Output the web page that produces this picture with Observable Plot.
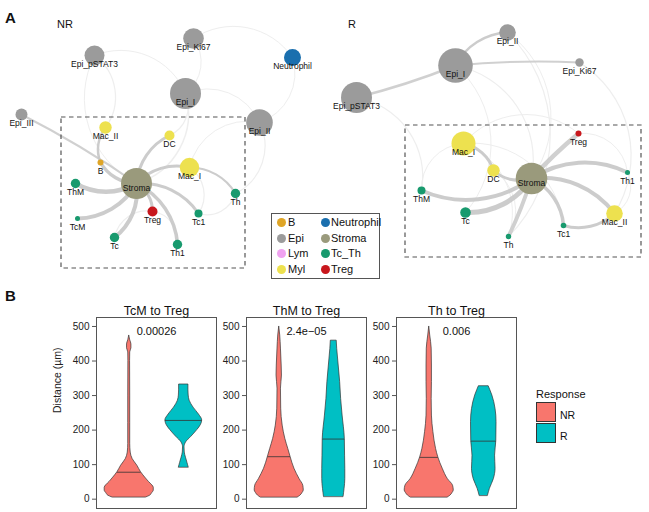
<!DOCTYPE html>
<html><head><meta charset="utf-8">
<script src="https://cdn.jsdelivr.net/npm/d3@7"></script>
<script src="https://cdn.jsdelivr.net/npm/@observablehq/plot@0.6"></script>
<style>
body{margin:0;background:#fff;font-family:"Liberation Sans",Arial,sans-serif;color:#111;}
#root{position:relative;width:649px;height:512px;overflow:hidden;background:#fff;}
.abs{position:absolute;white-space:nowrap;}
.abs svg{display:block;}
</style></head><body><div id="root"></div>
<script>
// ---------- Panel A data ----------
const groups = ["B","Epi","Lym","Myl","Neutrophil","Stroma","Tc_Th","Treg"];
const groupColors = ["#DFA526","#9B9B9B","#F0A2F0","#EDE14F","#1A6FAE","#9A9A7C","#189A6E","#C8171D"];

const nodesNR = [
  {id:"Epi_Ki67",group:"Epi",x:193,y:38,size:10.3},
  {id:"Epi_pSTAT3",group:"Epi",x:94,y:55,size:10},
  {id:"Neutrophil",group:"Neutrophil",x:292,y:57,size:8.5},
  {id:"Epi_I",group:"Epi",x:185,y:93,size:15.5},
  {id:"Epi_III",group:"Epi",x:21,y:114,size:6},
  {id:"Epi_II",group:"Epi",x:259,y:122,size:13.3},
  {id:"Mac_II",group:"Myl",x:105,y:127,size:6.2},
  {id:"DC",group:"Myl",x:169,y:135,size:5},
  {id:"B",group:"B",x:100,y:162,size:3},
  {id:"Mac_I",group:"Myl",x:189,y:167,size:9.7},
  {id:"Stroma",group:"Stroma",x:136,y:183,size:15.5},
  {id:"ThM",group:"Tc_Th",x:75,y:183,size:4.7},
  {id:"Th",group:"Tc_Th",x:235,y:193,size:4.7},
  {id:"TcM",group:"Tc_Th",x:77,y:218,size:2.5},
  {id:"Treg",group:"Treg",x:152,y:211,size:5},
  {id:"Tc1",group:"Tc_Th",x:198,y:213,size:4},
  {id:"Tc",group:"Tc_Th",x:114,y:237,size:4.7},
  {id:"Th1",group:"Tc_Th",x:177,y:244,size:4.7}
];
const curvedEdgesNR = [
  ["Stroma","ThM",4.5],["Stroma","TcM",4],["Stroma","Tc",4],["Stroma","Th1",3.5],
  ["Stroma","Treg",3],["Stroma","Tc1",3],["Stroma","Mac_I",3],["Stroma","DC",3],
  ["Stroma","B",3.5],["B","Mac_II",2.5],["Mac_I","Th",2.2]
];
const straightEdgesNR = [["Epi_III","Stroma",2]];
const faintEdgesNR = [
  ["Epi_I","Stroma",1.5],["Epi_I","DC",1.2],["Epi_pSTAT3","Mac_II",1.2],["Epi_Ki67","Neutrophil",1],
  ["Epi_Ki67","Epi_I",1],["Epi_I","Epi_II",1],["Epi_II","Th",1.2],["Mac_I","Tc1",1.2],
  ["Th","Tc1",1.2],["Treg","Th1",1.2],["Tc","Treg",1.2],["Neutrophil","Epi_II",1],
  ["Epi_pSTAT3","Epi_I",1],["Mac_I","Epi_II",1],["Stroma","Epi_pSTAT3",1]
];
const regionNR = [{x1:61,y1:117,x2:245,y2:268}];

const nodesR = [
  {id:"Epi_II",group:"Epi",x:507,y:32,size:8.3},
  {id:"Epi_I",group:"Epi",x:455,y:65,size:17.3},
  {id:"Epi_Ki67",group:"Epi",x:579,y:62,size:4.2},
  {id:"Epi_pSTAT3",group:"Epi",x:356,y:97,size:15.5},
  {id:"Mac_I",group:"Myl",x:463,y:143,size:12},
  {id:"Treg",group:"Treg",x:578,y:133,size:3},
  {id:"DC",group:"Myl",x:493,y:170,size:6.2},
  {id:"Stroma",group:"Stroma",x:531,y:178,size:15.8},
  {id:"Th1",group:"Tc_Th",x:627,y:172,size:2.5},
  {id:"ThM",group:"Tc_Th",x:421,y:190,size:4},
  {id:"Tc",group:"Tc_Th",x:465,y:212,size:5.3},
  {id:"Mac_II",group:"Myl",x:614,y:213,size:8.3},
  {id:"Tc1",group:"Tc_Th",x:563,y:225,size:2.8},
  {id:"Th",group:"Tc_Th",x:508,y:236,size:2.7}
];
const curvedEdgesR = [
  ["Stroma","Th1",4],["Stroma","Mac_II",4],["Stroma","Tc1",3.5],["Stroma","Tc",5],
  ["Stroma","ThM",4],["Stroma","DC",3],["Mac_I","DC",3],["Mac_II","Tc1",3],["Epi_I","Epi_II",2.5]
];
const straightEdgesR = [["Stroma","Treg",4.5],["Stroma","Th",4],["Epi_I","Epi_pSTAT3",2.5],["Epi_I","Epi_Ki67",2]];
const faintEdgesR = [
  ["Epi_pSTAT3","ThM",1.2],["Epi_II","Th",1.2],["Epi_Ki67","Mac_II",1.2],["Epi_I","Stroma",1.2],
  ["Mac_I","Th",1],["Mac_I","Tc1",1],["Th1","Mac_II",1],["Mac_I","Treg",1],
  ["Epi_I","Tc",1],["Epi_II","Stroma",1],["DC","Th",1],["ThM","Mac_I",1],["Treg","Th1",1]
];
const regionR = [{x1:405,y1:125,x2:641,y2:257}];

// ---------- Panel B data ----------
const responses = ["NR","R"];
const responseColors = ["#F8766D","#00BFC4"];
const panelTitles = ["TcM to Treg","ThM to Treg","Th to Treg"];
const pValues = ["0.00026","2.4e\u221205","0.006"];
const yTicks = [0,100,200,300,400,500];
// violin profiles: [distance, relative half-width]
const tcmNR = [[5,0.69],[10,0.85],[17,0.93],[25,1.0],[33,1.0],[40,0.94],[50,0.8],[60,0.68],[78,0.48],[97,0.33],[116,0.14],[135,0.06],[160,0.04],[220,0.04],[300,0.04],[400,0.035],[425,0.04],[437,0.09],[448,0.09],[460,0.04],[474,0]];
const tcmR = [[92,0.2],[105,0.15],[120,0.09],[135,0.04],[150,0.03],[165,0.1],[180,0.3],[200,0.55],[215,0.7],[228,0.75],[245,0.62],[265,0.4],[285,0.24],[300,0.2],[315,0.19],[332,0.19]];
const thmNR = [[5,0.76],[10,0.86],[18,0.95],[25,1.0],[39,0.98],[58,0.83],[88,0.62],[123,0.46],[145,0.37],[174,0.25],[213,0.14],[262,0.08],[320,0.07],[358,0.11],[387,0.1],[436,0.07],[474,0.04],[500,0]];
const thmR = [[7,0.4],[30,0.44],[58,0.47],[88,0.47],[126,0.46],[174,0.45],[242,0.36],[290,0.3],[339,0.26],[387,0.2],[435,0.14],[459,0.12]];
const thNR = [[5,0.76],[10,0.86],[18,0.95],[25,1.0],[39,0.97],[58,0.76],[88,0.55],[121,0.37],[145,0.28],[194,0.17],[242,0.11],[290,0.1],[339,0.11],[387,0.11],[436,0.1],[474,0.04],[500,0]];
const thR = [[10,0.17],[30,0.25],[58,0.41],[88,0.48],[126,0.46],[168,0.51],[223,0.52],[261,0.48],[300,0.35],[315,0.27],[327,0.2]];
const medians = [[78,228],[123,174],[121,168]];

// ---------- build ----------
const root = document.getElementById("root");
const FONT = "Liberation Sans, Arial, sans-serif";
function place(el, left, top){ const d=document.createElement("div"); d.className="abs"; d.style.left=left+"px"; d.style.top=top+"px"; d.appendChild(el); root.appendChild(d); return d; }
function label(text, left, top, css){ const s=document.createElement("span"); s.textContent=text; s.style.cssText=css||""; return place(s,left,top); }

function edgeRows(list, nodes){
  const m = new Map(nodes.map(n=>[n.id,n]));
  return list.map(([s,t,w])=>({x1:m.get(s).x,y1:m.get(s).y,x2:m.get(t).x,y2:m.get(t).y,w}));
}
const allNodes = nodesNR.concat(nodesR);
const netMarks = [];
for (const [nodes, curved, straight, faint, region] of [[nodesNR,curvedEdgesNR,straightEdgesNR,faintEdgesNR,regionNR],[nodesR,curvedEdgesR,straightEdgesR,faintEdgesR,regionR]]) {
  netMarks.push(
    Plot.arrow(edgeRows(faint,nodes),{x1:"x1",y1:"y1",x2:"x2",y2:"y2",strokeWidth:"w",bend:45,headLength:0,stroke:"#eeeeee",strokeLinecap:"round"}),
    Plot.arrow(edgeRows(straight,nodes),{x1:"x1",y1:"y1",x2:"x2",y2:"y2",strokeWidth:"w",bend:4,headLength:0,stroke:"#cbcbcb",strokeLinecap:"round",strokeOpacity:0.9}),
    Plot.arrow(edgeRows(curved,nodes),{x1:"x1",y1:"y1",x2:"x2",y2:"y2",strokeWidth:"w",bend:30,headLength:0,stroke:"#c6c6c6",strokeLinecap:"round",strokeOpacity:0.9}),
    Plot.rect(region,{x1:"x1",x2:"x2",y1:"y1",y2:"y2",fill:"none",stroke:"#555",strokeWidth:1.2,strokeDasharray:"4.5,3.5"})
  );
}
netMarks.push(
  Plot.dot(allNodes,{x:"x",y:"y",r:"size",fill:"group",stroke:"none"}),
  Plot.text(allNodes.filter(d=>d.id!=="Stroma"),{x:"x",y:"y",text:"id",dy:9,fontSize:8.5,fill:"#111",fontFamily:FONT}),
  Plot.text(allNodes.filter(d=>d.id==="Stroma"),{x:"x",y:"y",text:"id",dy:5,fontSize:8.5,fill:"#111",fontFamily:FONT})
);
const net = Plot.plot({
  width:649,height:280,margin:0,
  x:{domain:[0,649],axis:null},
  y:{domain:[0,280],reverse:true,axis:null},
  r:{type:"linear",domain:[0,20],range:[0,20]},
  color:{domain:groups,range:groupColors},
  style:{background:"transparent",fontFamily:FONT},
  marks:netMarks
});
place(net,0,0);

label("A",5,9,"font-weight:bold;font-size:15px;");
label("NR",57,14,"font-size:11px;");
label("R",348,14,"font-size:11px;");
label("B",5,287,"font-weight:bold;font-size:15px;");

// network legend
const leg = document.createElement("div");
leg.style.cssText="position:relative;width:107px;height:64px;border:1px solid #555;background:#fff;font-size:11px;";
groups.forEach((g,i)=>{
  const col=Math.floor(i/4), row=i%4;
  const dot=document.createElement("div");
  dot.style.cssText=`position:absolute;left:${col?49:5}px;top:${4+row*15.5}px;width:9px;height:9px;border-radius:50%;background:${groupColors[i]};`;
  const t=document.createElement("div");
  t.textContent=g;
  t.style.cssText=`position:absolute;left:${col?59:16}px;top:${1+row*15.5}px;line-height:14px;`;
  leg.appendChild(dot); leg.appendChild(t);
});
place(leg,271,213);

// violins
const profiles = [[tcmNR,tcmR],[thmNR,thmR],[thNR,thR]];
const HALF = 0.45;
function widthAt(prof, v){
  for (let i=1;i<prof.length;i++){ const [a,wa]=prof[i-1],[b,wb]=prof[i]; if (v>=a && v<=b) return wa+(wb-wa)*(v-a)/(b-a); }
  return 0;
}
const lefts = [0,150,300];
profiles.forEach((pair,k)=>{
  const marks=[Plot.frame({stroke:"#555",strokeWidth:1})];
  const medRows=[];
  pair.forEach((prof,j)=>{
    const pos=j+1;
    const rows=prof.map(([v,w])=>({v,a:pos-w*HALF,b:pos+w*HALF}));
    marks.push(Plot.areaX(rows,{y:"v",x1:"a",x2:"b",fill:responseColors[j],stroke:"#333",strokeWidth:0.7,curve:"monotone-y"}));
    const m=medians[k][j], w=widthAt(prof,m);
    medRows.push({v:m,a:pos-w*HALF,b:pos+w*HALF});
  });
  marks.push(
    Plot.ruleY(medRows,{y:"v",x1:"a",x2:"b",stroke:"#333",strokeWidth:0.8}),
    Plot.axisY({ticks:yTicks,tickSize:4,tickPadding:3,label:null,fontSize:10,stroke:"#555"}),
    Plot.text([panelTitles[k]],{frameAnchor:"top",dy:-11,fontSize:12.5,fill:"#111",fontFamily:FONT}),
    Plot.text([pValues[k]],{frameAnchor:"top",dy:10,fontSize:11,fill:"#111",fontFamily:FONT})
  );
  if (k===0) marks.push(Plot.text(["Distance (\u00b5m)"],{frameAnchor:"left",dx:-39,rotate:-90,fontSize:10.5,fill:"#222",fontFamily:FONT}));
  const p=Plot.plot({
    width:225,height:232,marginLeft:96,marginRight:9,marginTop:37,marginBottom:4,
    x:{domain:[0.4,2.6],axis:null},
    y:{domain:[-27,526],axis:null},
    style:{background:"transparent",overflow:"visible",fontFamily:FONT,fontSize:"10px",color:"#222"},
    marks
  });
  place(p,lefts[k],280);
});

// response legend
label("Response",536,384,"font-size:11px;");
responses.forEach((r,i)=>{
  const b=document.createElement("div");
  b.style.cssText=`width:18px;height:18px;background:${responseColors[i]};border:1px solid #333;`;
  place(b,536,402+i*21);
  label(r,560,405+i*21,"font-size:10.5px;");
});
</script></body></html>
